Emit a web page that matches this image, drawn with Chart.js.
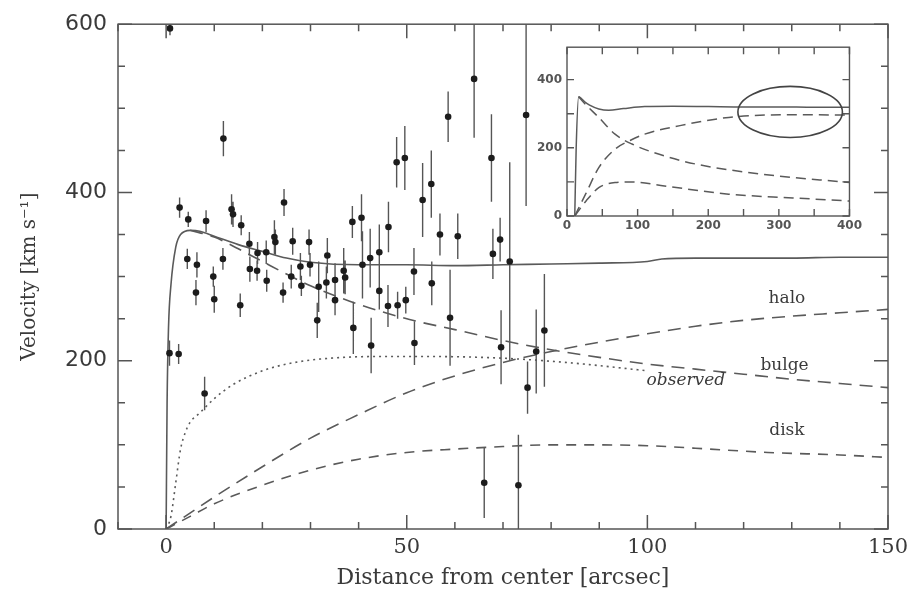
<!DOCTYPE html>
<html>
<head>
<meta charset="UTF-8">
<title>Rotation curve</title>
<style>
  body { margin: 0; background: #fff; }
  #holder { position: relative; width: 924px; height: 591px; }
  #main-chart { position: absolute; left: 0; top: 0; }
  #inset-chart { position: absolute; left: 520px; top: 35px; }
</style>
</head>
<body>
<div id="holder">
  <canvas id="main-chart" width="924" height="591"></canvas>
  <canvas id="inset-chart" width="345" height="205"></canvas>
</div>
<script src="https://cdn.jsdelivr.net/npm/chart.js@4.4.0/dist/chart.umd.min.js"></script>
<script>
// observed velocities with error bars
var obsX = [0.8, 0.7, 2.6, 2.8, 4.6, 4.4, 6.4, 6.2, 8.0, 8.3, 9.8, 10.0, 11.8, 11.9, 13.6, 13.9, 15.6, 15.4,
            17.3, 17.4, 19.0, 18.9, 20.8, 20.9, 22.5, 22.7, 24.5, 24.3, 26.3, 26.0, 27.9, 28.1, 29.7, 29.9,
            31.7, 31.4, 33.5, 33.3, 35.1, 35.1, 36.9, 37.2, 38.7, 40.6, 40.8, 38.9, 42.4, 42.6, 44.3, 44.3,
            46.2, 46.1, 48.1, 49.8, 51.5, 51.6, 47.9, 49.6, 53.3, 55.1, 56.9, 60.6, 58.6, 64.0, 67.6, 67.9,
            69.4, 71.4, 74.8, 55.2, 59.0, 69.6, 76.9, 78.6, 75.1, 66.1, 73.2];
var obsV = [595, 209, 208, 382, 368, 321, 314, 281, 161, 366, 300, 273, 321, 464, 380, 374, 361, 266,
            339, 309, 328, 307, 329, 295, 347, 341, 388, 281, 342, 300, 312, 289, 341, 314,
            288, 248, 325, 293, 296, 272, 307, 299, 365, 370, 314, 239, 322, 218, 329, 283,
            359, 265, 266, 272, 306, 221, 436, 441, 391, 410, 350, 348, 490, 535, 441, 327,
            344, 318, 492, 292, 251, 216, 211, 236, 168, 55, 52];
var obsErr = [8, 15, 12, 12, 9, 12, 15, 15, 20, 13, 12, 16, 13, 21, 18, 15, 12, 14,
              14, 15, 13, 12, 14, 13, 20, 15, 16, 12, 16, 14, 16, 12, 15, 14,
              30, 21, 21, 19, 20, 18, 27, 20, 19, 28, 40, 31, 35, 33, 33, 22,
              30, 25, 16, 16, 28, 26, 30, 38, 44, 40, 25, 27, 30, 70, 52, 30,
              26, 118, 108, 26, 57, 44, 50, 67, 31, 42, 60];

// model curves, main panel
var totalX = [0, 0.2, 0.5, 1, 2, 3, 5, 7, 10, 15, 20, 25, 30, 40, 50, 60, 70, 80, 90, 100, 103, 110, 120, 130, 140, 150];
var totalV = [0, 150, 240, 290, 335, 350, 355, 354, 348, 338, 330, 322, 317, 314, 314, 313, 314, 315, 316, 318, 321, 322, 322, 322, 323, 323];
var bulgeX = [5, 10, 15, 20, 25, 30, 38, 45, 52, 60, 70, 80, 90, 100, 110, 120, 130, 140, 150];
var bulgeV = [355, 347, 333, 318, 303, 289, 271, 258, 247, 237, 224, 213, 204, 196, 190, 184, 178, 173, 168];
var haloX = [0, 10, 20, 30, 40, 50, 60, 70, 80, 90, 100, 110, 120, 130, 140, 150];
var haloV = [0, 38, 74, 108, 136, 162, 182, 198, 211, 222, 232, 241, 248, 253, 257, 261];
var diskX = [0, 5, 10, 20, 30, 40, 50, 60, 70, 80, 90, 100, 110, 125, 140, 150];
var diskV = [0, 15, 30, 52, 70, 83, 91, 95, 98, 100, 100, 99, 96, 91, 88, 85];
var observedX = [0, 1, 2, 3, 4, 5, 7, 10, 14, 20, 25, 32, 44, 55, 70, 85, 100];
var observedV = [0, 15, 55, 95, 115, 127, 138, 155, 172, 188, 196, 202, 205, 205, 203, 197, 188];

// inset curves
var insetTotalX = [11, 13, 16.5, 20, 25, 32, 45, 59, 80, 110, 150, 200, 250, 300, 350, 400];
var insetTotalV = [0, 200, 350, 345, 335, 325, 314, 310, 315, 321, 322, 321, 320, 320, 319, 319];
var insetHaloX = [11, 27, 45, 68, 90, 110, 160, 229, 321, 400];
var insetHaloV = [0, 67, 142, 196, 222, 240, 265, 289, 297, 296];
var insetBulgeX = [16.5, 25, 45, 68, 92, 138, 183, 275, 400];
var insetBulgeV = [350, 330, 289, 240, 211, 176, 152, 123, 98];
var insetDiskX = [11, 27, 45, 68, 92, 138, 229, 320, 400];
var insetDiskV = [0, 44, 83, 98, 100, 88, 64, 53, 44];

// tick labels
var xTicks = [0, 50, 100, 150];
var yTicks = [0, 200, 400, 600];
var insetXTicks = [0, 100, 200, 300, 400];
var insetYTicks = [0, 200, 400];

// curve names, placed in data units
var curveNames = ['halo', 'bulge', 'observed', 'disk'];
var curveNameX = [129, 128.5, 108, 129];
var curveNameV = [274, 194, 176, 117];

// ellipse in the inset (data units)
var ellipseCenter = [316, 305];
var ellipseRadii = [74, 75];

var ink = '#3a3a3a';
var lineGrey = '#5a5a5a';

function pts(xs, vs) {
    return xs.map(function (x, i) { return {x: x, y: vs[i]}; });
}

// box with inward ticks on all four sides
var framePlugin = {
    id: 'frame',
    afterDatasetsDraw: function (chart, args, o) {
        var ctx = chart.ctx, a = chart.chartArea, x = chart.scales.x, y = chart.scales.y;
        ctx.save();
        ctx.strokeStyle = o.color;
        ctx.lineWidth = o.width;
        ctx.strokeRect(a.left, a.top, a.right - a.left, a.bottom - a.top);
        ctx.beginPath();
        var v, p, len;
        for (v = Math.ceil(x.min / o.xMinor) * o.xMinor; v <= x.max + 1e-6; v += o.xMinor) {
            p = x.getPixelForValue(v);
            len = Math.abs(v % o.xMajor) < 1e-6 ? o.majorLen : o.minorLen;
            ctx.moveTo(p, a.bottom); ctx.lineTo(p, a.bottom - len);
            ctx.moveTo(p, a.top); ctx.lineTo(p, a.top + len);
        }
        for (v = Math.ceil(y.min / o.yMinor) * o.yMinor; v <= y.max + 1e-6; v += o.yMinor) {
            p = y.getPixelForValue(v);
            len = Math.abs(v % o.yMajor) < 1e-6 ? o.majorLen : o.minorLen;
            ctx.moveTo(a.left, p); ctx.lineTo(a.left + len, p);
            ctx.moveTo(a.right, p); ctx.lineTo(a.right - len, p);
        }
        ctx.stroke();
        ctx.restore();
    }
};

var errorBarPlugin = {
    id: 'errorBars',
    beforeDatasetsDraw: function (chart, args, o) {
        var ctx = chart.ctx, a = chart.chartArea, x = chart.scales.x, y = chart.scales.y;
        var ds = chart.data.datasets[0];
        ctx.save();
        ctx.beginPath();
        ctx.rect(a.left, a.top, a.right - a.left, a.bottom - a.top);
        ctx.clip();
        ctx.strokeStyle = o.color;
        ctx.lineWidth = o.width;
        ctx.beginPath();
        ds.data.forEach(function (d, i) {
            var px = x.getPixelForValue(d.x);
            ctx.moveTo(px, y.getPixelForValue(d.y - ds.errors[i]));
            ctx.lineTo(px, y.getPixelForValue(d.y + ds.errors[i]));
        });
        ctx.stroke();
        ctx.restore();
    }
};

var curveLabelPlugin = {
    id: 'curveLabels',
    afterDatasetsDraw: function (chart, args, o) {
        var ctx = chart.ctx, x = chart.scales.x, y = chart.scales.y;
        ctx.save();
        ctx.fillStyle = ink;
        ctx.textAlign = 'center';
        ctx.textBaseline = 'middle';
        curveNames.forEach(function (t, i) {
            ctx.font = (t === 'observed' ? 'italic ' : '') + '17px "DejaVu Serif"';
            ctx.fillText(t, x.getPixelForValue(curveNameX[i]), y.getPixelForValue(curveNameV[i]));
        });
        ctx.restore();
    }
};

var ellipsePlugin = {
    id: 'ellipse',
    afterDatasetsDraw: function (chart) {
        var ctx = chart.ctx, x = chart.scales.x, y = chart.scales.y;
        var cx = x.getPixelForValue(ellipseCenter[0]), cy = y.getPixelForValue(ellipseCenter[1]);
        var rx = Math.abs(x.getPixelForValue(ellipseCenter[0] + ellipseRadii[0]) - cx);
        var ry = Math.abs(y.getPixelForValue(ellipseCenter[1] + ellipseRadii[1]) - cy);
        ctx.save();
        ctx.strokeStyle = '#444';
        ctx.lineWidth = 1.6;
        ctx.beginPath();
        ctx.ellipse(cx, cy, rx, ry, 0, 0, Math.PI * 2);
        ctx.stroke();
        ctx.restore();
    }
};

function curve(xs, vs, dash, width) {
    return {
        type: 'line', data: pts(xs, vs), borderColor: lineGrey, borderWidth: width,
        borderDash: dash, pointRadius: 0, fill: false, showLine: true,
        cubicInterpolationMode: 'monotone'
    };
}

new Chart(document.getElementById('main-chart'), {
    type: 'scatter',
    data: {
        datasets: [
            {label: 'data', data: pts(obsX, obsV), errors: obsErr, pointRadius: 3.3,
             backgroundColor: '#1c1c1c', borderWidth: 0},
            curve(totalX, totalV, [], 1.6),
            curve(bulgeX, bulgeV, [13, 8], 1.6),
            curve(haloX, haloV, [13, 8], 1.6),
            curve(diskX, diskV, [10, 8], 1.6),
            curve(observedX, observedV, [2, 4], 1.6)
        ]
    },
    options: {
        responsive: false,
        animation: false,
        layout: {padding: {left: 0, right: 36, top: 21, bottom: 0}},
        plugins: {
            legend: {display: false},
            tooltip: {enabled: false},
            frame: {color: '#555', width: 1.5, xMinor: 10, xMajor: 50, yMinor: 50, yMajor: 200, majorLen: 14, minorLen: 7},
            errorBars: {color: '#555', width: 1.4}
        },
        scales: {
            x: {
                type: 'linear', min: -10, max: 150,
                afterBuildTicks: function (s) { s.ticks = xTicks.map(function (v) { return {value: v}; }); },
                afterFit: function (s) { s.height = 62; },
                grid: {display: false, drawTicks: false},
                border: {display: false},
                ticks: {font: {family: 'DejaVu Serif', size: 21}, color: ink, padding: 6, maxRotation: 0},
                title: {display: true, text: 'Distance from center [arcsec]',
                        font: {family: 'DejaVu Serif', size: 22}, color: ink, padding: {top: 0, bottom: 0}}
            },
            y: {
                type: 'linear', min: 0, max: 600,
                afterBuildTicks: function (s) { s.ticks = yTicks.map(function (v) { return {value: v}; }); },
                afterFit: function (s) { s.width = 118; },
                grid: {display: false, drawTicks: false},
                border: {display: false},
                ticks: {font: {family: 'DejaVu Sans', size: 22}, color: ink, padding: 11},
                title: {display: true, text: 'Velocity [km s\u207B\u00B9]',
                        font: {family: 'DejaVu Serif', size: 20}, color: ink, padding: {top: 18, bottom: 0}}
            }
        }
    },
    plugins: [framePlugin, errorBarPlugin, curveLabelPlugin]
});

new Chart(document.getElementById('inset-chart'), {
    type: 'scatter',
    data: {
        datasets: [
            curve(insetTotalX, insetTotalV, [], 1.5),
            curve(insetBulgeX, insetBulgeV, [10, 6], 1.5),
            curve(insetHaloX, insetHaloV, [10, 6], 1.5),
            curve(insetDiskX, insetDiskV, [10, 6], 1.5)
        ]
    },
    options: {
        responsive: false,
        animation: false,
        layout: {padding: {left: 0, right: 8, top: 12, bottom: 0}},
        plugins: {
            legend: {display: false},
            tooltip: {enabled: false},
            frame: {color: '#555', width: 1.4, xMinor: 50, xMajor: 50, yMinor: 100, yMajor: 100, majorLen: 7, minorLen: 7}
        },
        scales: {
            x: {
                type: 'linear', min: 0, max: 400,
                afterBuildTicks: function (s) { s.ticks = insetXTicks.map(function (v) { return {value: v}; }); },
                afterFit: function (s) { s.height = 24; },
                grid: {display: false, drawTicks: false},
                border: {display: false},
                ticks: {font: {family: 'DejaVu Sans', size: 12, weight: 'bold'}, color: '#555', padding: 3, maxRotation: 0}
            },
            y: {
                type: 'linear', min: 0, max: 495,
                afterBuildTicks: function (s) { s.ticks = insetYTicks.map(function (v) { return {value: v}; }); },
                afterFit: function (s) { s.width = 47; },
                grid: {display: false, drawTicks: false},
                border: {display: false},
                ticks: {font: {family: 'DejaVu Sans', size: 12, weight: 'bold'}, color: '#555', padding: 5}
            }
        }
    },
    plugins: [framePlugin, ellipsePlugin]
});
</script>
</body>
</html>
